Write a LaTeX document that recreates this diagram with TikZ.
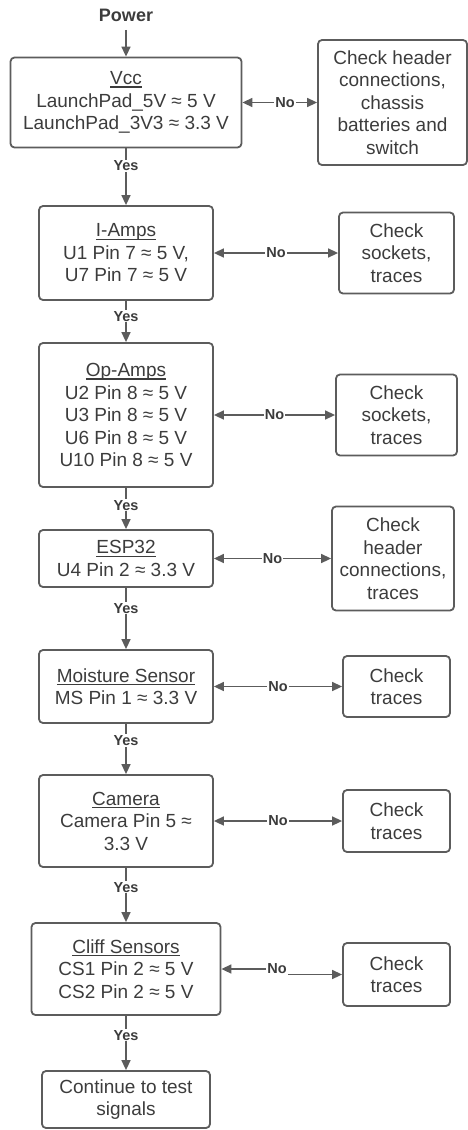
\documentclass[tikz,border=0pt]{standalone}
\usepackage{fontspec}
\setmainfont{Liberation Sans}
\usetikzlibrary{arrows.meta}
\definecolor{edgegray}{HTML}{5C5C5C}
\definecolor{txtgray}{HTML}{3C3C3C}
\newcommand{\myul}[1]{{\setbox0\hbox{#1}\rlap{\rule[-3pt]{\wd0}{1.2pt}}\box0}}
\begin{document}
\begin{tikzpicture}[x=1pt,y=-1pt,
  box/.style={draw=edgegray, line width=1.8pt, rounded corners=4pt, align=center, inner sep=0pt, text=txtgray, font=\fontsize{19}{22.5}\selectfont},
  lbl/.style={font=\bfseries\fontsize{14.5}{16}\selectfont, text=txtgray, fill=white, inner sep=1pt},
  arr/.style={draw=edgegray, line width=1.5pt, -{Triangle[length=10pt,width=9pt]}},
  darr/.style={draw=edgegray, line width=1.5pt, {Triangle[length=10pt,width=9pt]}-{Triangle[length=10pt,width=9pt]}},
]
\useasboundingbox (0,0) rectangle (468,1130);

% main column
\node[font=\bfseries\fontsize{18}{20}\selectfont, text=txtgray] (power) at (126,15) {Power};
\node[box, minimum width=231pt, minimum height=90pt] (vcc) at (126,102.5) {\myul{Vcc}\\LaunchPad\_5V ≈ 5 V\\LaunchPad\_3V3 ≈ 3.3 V};
\node[box, minimum width=174pt, minimum height=94pt] (iamps) at (126,253) {\myul{I-Amps}\\U1 Pin 7 ≈ 5 V,\\U7 Pin 7 ≈ 5 V};
\node[box, minimum width=174pt, minimum height=144pt] (opamps) at (126,415) {\myul{Op-Amps}\\U2 Pin 8 ≈ 5 V\\U3 Pin 8 ≈ 5 V\\U6 Pin 8 ≈ 5 V\\U10 Pin 8 ≈ 5 V};
\node[box, minimum width=174pt, minimum height=57pt] (esp) at (126,558.5) {\myul{ESP32}\\U4 Pin 2 ≈ 3.3 V};
\node[box, minimum width=174pt, minimum height=73pt] (ms) at (126,686.5) {\myul{Moisture Sensor}\\MS Pin 1 ≈ 3.3 V};
\node[box, minimum width=174pt, minimum height=92pt] (cam) at (126,821) {\myul{Camera}\\Camera Pin 5 ≈\\3.3 V};
\node[box, minimum width=189pt, minimum height=92pt] (cliff) at (126,969) {\myul{Cliff Sensors}\\CS1 Pin 2 ≈ 5 V\\CS2 Pin 2 ≈ 5 V};
\node[box, minimum width=168pt, minimum height=57pt] (cont) at (126,1099.5) {Continue to test\\signals};

% right column
\node[box, minimum width=149pt, minimum height=125pt] (r1) at (392.5,102.5) {Check header\\connections,\\chassis\\batteries and\\switch};
\node[box, minimum width=115pt, minimum height=81pt] (r2) at (396.5,253) {Check\\sockets,\\traces};
\node[box, minimum width=121pt, minimum height=81pt] (r3) at (396.5,415) {Check\\sockets,\\traces};
\node[box, minimum width=122pt, minimum height=104pt] (r4) at (393,558.5) {Check\\header\\connections,\\traces};
\node[box, minimum width=107pt, minimum height=61pt] (r5) at (396.5,686.5) {Check\\traces};
\node[box, minimum width=107pt, minimum height=62pt] (r6) at (396.5,821) {Check\\traces};
\node[box, minimum width=107pt, minimum height=63pt] (r7) at (396.5,974.5) {Check\\traces};

% vertical connectors
\draw[arr, shorten <=5pt] (power) -- (vcc);
\draw[arr] (vcc.south) -- node[lbl, pos=0.31] {Yes} (iamps.north);
\draw[arr] (iamps.south) -- node[lbl, pos=0.37] {Yes} (opamps.north);
\draw[arr] (opamps.south) -- node[lbl, pos=0.42] {Yes} (esp.north);
\draw[arr] (esp.south) -- node[lbl, pos=0.33] {Yes} (ms.north);
\draw[arr] (ms.south) -- node[lbl, pos=0.33] {Yes} (cam.north);
\draw[arr] (cam.south) -- node[lbl, pos=0.36] {Yes} (cliff.north);
\draw[arr] (cliff.south) -- node[lbl, pos=0.36] {Yes} (cont.north);

% horizontal connectors
\draw[darr] (vcc.east) -- node[lbl, pos=0.57] {No} (r1.west);
\draw[darr] (iamps.east) -- node[lbl] {No} (r2.west);
\draw[darr] (opamps.east) -- node[lbl] {No} (r3.west);
\draw[darr] (esp.east) -- node[lbl] {No} (r4.west);
\draw[darr] (ms.east) -- node[lbl] {No} (r5.west);
\draw[darr] (cam.east) -- node[lbl] {No} (r6.west);
\node[lbl] (no7) at (277,969) {No};
\draw[arr] (no7.west) -- (cliff.east);
\draw[arr] (no7.east |- r7.west) -- (r7.west);
\end{tikzpicture}
\end{document}
